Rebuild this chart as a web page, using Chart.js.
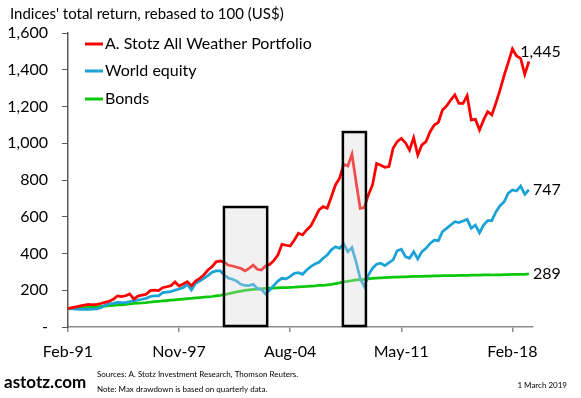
<!DOCTYPE html>
<html>
<head>
<meta charset="utf-8">
<script src="https://cdn.jsdelivr.net/npm/chart.js@4.4.1/dist/chart.umd.min.js"></script>
<style>
  body { margin: 0; background: #fff; }
  #wrap { width: 581px; height: 398px; }
</style>
</head>
<body>
<div id="wrap"><canvas id="returnsChart" width="581" height="398"></canvas></div>
<script>
// quarterly, Feb-91 .. Feb-19 (plus one empty slot so the axis runs a little past the data)
const months = ['Feb', 'May', 'Aug', 'Nov'];
let quarters = [];
for (let i = 0; i < 114; i++) {
  let yr = 91 + Math.floor(i / 4);
  quarters.push(months[i % 4] + '-' + String(yr % 100).padStart(2, '0'));
}
const xTickLabels = ['Feb-91', 'Nov-97', 'Aug-04', 'May-11', 'Feb-18'];
const yTicks = [0, 200, 400, 600, 800, 1000, 1200, 1400, 1600];

const seriesNames = ['A. Stotz All Weather Portfolio', 'World equity', 'Bonds'];
const seriesColors = ['#ff0000', '#1ba3d6', '#0cc80c'];

const allWeather = [
  100, 105, 110, 115, 119, 123, 121, 123, 128, 134, 140, 151, 169, 165, 170, 180,
  152, 168, 173, 178, 198, 201, 198, 214, 219, 225, 245, 223, 234, 247, 225, 250,
  265, 283, 310, 328, 355, 359, 352, 336, 332, 325, 319, 305, 319, 337, 314, 310,
  332, 340, 361, 392, 450, 445, 441, 473, 510, 501, 528, 550, 592, 637, 655, 646,
  709, 773, 810, 885, 876, 940, 791, 646, 650, 720, 773, 890, 880, 869, 873, 973,
  1009, 1027, 1003, 963, 1030, 936, 991, 1009, 1063, 1099, 1114, 1181, 1203, 1235, 1263, 1217,
  1217, 1259, 1127, 1130, 1072, 1127, 1172, 1154, 1220, 1290, 1370, 1440, 1513, 1475, 1462, 1375,
  1445
];
const worldEquity = [
  100, 98, 97, 96, 97, 96, 97, 98, 105, 118, 126, 129, 134, 133, 133, 138,
  142, 147, 151, 156, 166, 169, 169, 187, 190, 192, 201, 207, 214, 232, 201, 238,
  250, 265, 280, 298, 305, 305, 283, 266, 260, 250, 232, 226, 225, 232, 210, 205,
  180, 201, 225, 250, 265, 262, 275, 292, 296, 287, 310, 328, 343, 352, 374, 392,
  420, 437, 428, 452, 410, 432, 355, 265, 219, 283, 320, 342, 347, 334, 350, 365,
  415, 423, 383, 374, 410, 370, 410, 428, 455, 473, 470, 519, 537, 555, 573, 568,
  577, 586, 537, 555, 513, 555, 579, 579, 628, 660, 682, 728, 746, 740, 767, 722,
  747
];
const bonds = [
  100, 101, 102, 104, 105, 107, 108, 110, 112, 114, 116, 118, 120, 121, 123, 126,
  128, 130, 131, 133, 136, 138, 140, 142, 144, 146, 148, 150, 152, 154, 156, 158,
  160, 162, 164, 166, 169, 172, 176, 181, 186, 191, 195, 199, 202, 205, 206, 208,
  210, 211, 212, 213, 214, 214, 216, 217, 219, 220, 221, 223, 224, 226, 227, 229,
  232, 236, 240, 246, 249, 252, 256, 257, 259, 262, 264, 266, 268, 269, 270, 271,
  272, 273, 273, 274, 275, 276, 276, 277, 277, 278, 278, 279, 279, 280, 280, 281,
  281, 281, 282, 282, 282, 283, 283, 283, 284, 284, 285, 285, 286, 286, 287, 287,
  289
];

// max drawdown periods (quarter index from / to, box height in index points)
const drawdownFrom = [37.9, 66.8];
const drawdownTo = [48.4, 72.4];
const drawdownTop = [653, 1061];

const FONT = 'Lato, "Open Sans", sans-serif';

const overlay = {
  id: 'overlay',
  afterDatasetsDraw(chart) {
    const ctx = chart.ctx, x = chart.scales.x, y = chart.scales.y;
    ctx.save();
    for (let i = 0; i < drawdownFrom.length; i++) {
      let x0 = x.getPixelForValue(drawdownFrom[i]);
      let x1 = x.getPixelForValue(drawdownTo[i]);
      let y0 = y.getPixelForValue(drawdownTop[i]);
      let y1 = y.getPixelForValue(0) - 1;
      ctx.fillStyle = 'rgba(215,215,215,0.35)';
      ctx.fillRect(x0, y0, x1 - x0, y1 - y0);
      ctx.strokeStyle = '#000';
      ctx.lineWidth = 2.5;
      ctx.strokeRect(x0, y0, x1 - x0, y1 - y0);
    }
    ctx.restore();
  },
  afterDraw(chart) {
    const ctx = chart.ctx, x = chart.scales.x, y = chart.scales.y;
    ctx.save();
    ctx.fillStyle = '#000';
    ctx.textBaseline = 'middle';

    // title
    ctx.font = '15px ' + FONT;
    ctx.textAlign = 'left';
    ctx.fillText("Indices' total return, rebased to 100 (US$)", 10, 14);

    // legend
    const rows = [44, 71, 99];
    chart.data.datasets.forEach((ds, i) => {
      ctx.strokeStyle = ds.borderColor;
      ctx.lineWidth = 3;
      ctx.beginPath();
      ctx.moveTo(85, rows[i]);
      ctx.lineTo(103, rows[i]);
      ctx.stroke();
      ctx.fillStyle = '#000';
      ctx.font = '16px ' + FONT;
      ctx.fillText(ds.label, 105, rows[i]);
    });

    // end values
    const lift = [-10, 0, 0];
    chart.data.datasets.forEach((ds, i) => {
      let n = ds.data.length - 1;
      let v = ds.data[n];
      let px = x.getPixelForValue(n), py = y.getPixelForValue(v);
      ctx.textAlign = 'right';
      ctx.font = '16px ' + FONT;
      ctx.fillText(v.toLocaleString('en-US'), px + 32, py + lift[i]);
    });

    // footer
    ctx.textAlign = 'left';
    ctx.font = 'bold 17px ' + FONT;
    ctx.fillText('astotz.com', 4, 383);
    ctx.font = '8px ' + FONT;
    ctx.fillText('Sources: A. Stotz Investment Research, Thomson Reuters.', 97, 374);
    ctx.fillText('Note: Max drawdown is based on quarterly data.', 97, 389);
    ctx.textAlign = 'right';
    ctx.fillText('1 March 2019', 567, 385);
    ctx.restore();
  }
};

const ctx = document.getElementById('returnsChart').getContext('2d');
const returnsChart = new Chart(ctx, {
  type: 'line',
  data: {
    labels: quarters,
    datasets: [
      { label: seriesNames[0], data: allWeather, borderColor: seriesColors[0] },
      { label: seriesNames[1], data: worldEquity, borderColor: seriesColors[1] },
      { label: seriesNames[2], data: bonds, borderColor: seriesColors[2] }
    ]
  },
  options: {
    responsive: false,
    animation: false,
    layout: { padding: { top: 33, right: 48, bottom: 0, left: 0 } },
    elements: {
      point: { radius: 0 },
      line: { borderWidth: 2.75, tension: 0, fill: false }
    },
    plugins: { legend: { display: false }, tooltip: { enabled: false } },
    scales: {
      x: {
        offset: false,
        afterFit(s) { s.height = 71; },
        grid: { drawOnChartArea: false, drawTicks: true, tickLength: 5, color: '#8c8c8c', lineWidth: 1.5 },
        border: { color: '#8c8c8c', width: 1.5 },
        ticks: {
          autoSkip: false,
          maxRotation: 0,
          padding: 10,
          color: '#000',
          font: { family: FONT, size: 16 },
          callback(val, i) {
            let lab = quarters[i];
            return xTickLabels.includes(lab) ? lab : null;
          }
        }
      },
      y: {
        min: yTicks[0],
        max: yTicks[yTicks.length - 1],
        afterFit(s) { s.width = 68; },
        afterBuildTicks(s) { s.ticks = yTicks.map(v => ({ value: v })); },
        grid: { drawOnChartArea: false, drawTicks: true, tickLength: 6, color: '#595959' },
        border: { color: '#595959', width: 1.5 },
        ticks: {
          padding: 14,
          color: '#000',
          font: { family: FONT, size: 16 },
          callback(v) { return v === 0 ? '-' : v.toLocaleString('en-US'); }
        }
      }
    }
  },
  plugins: [overlay]
});
</script>
</body>
</html>
